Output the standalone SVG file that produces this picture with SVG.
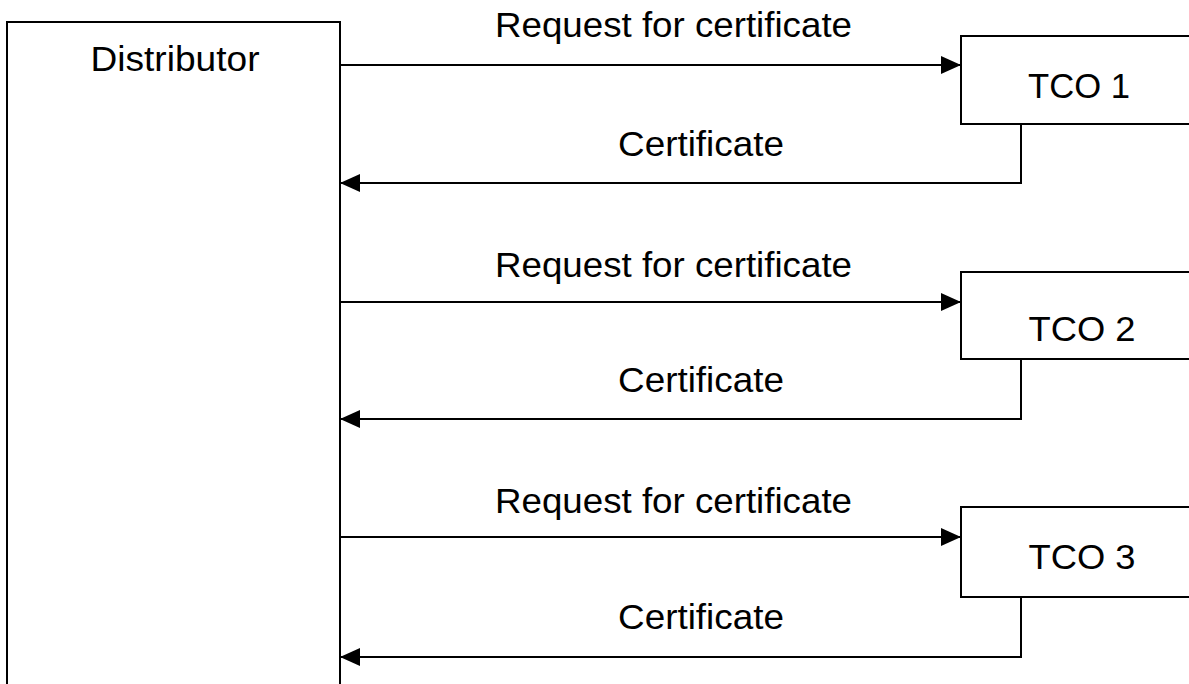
<svg xmlns="http://www.w3.org/2000/svg" width="1189" height="684" viewBox="0 0 1189 684">
<defs>
<marker id="ah" markerUnits="userSpaceOnUse" markerWidth="20" markerHeight="18" refX="20" refY="9" orient="auto">
<path d="M0,0 L20,9 L0,18 Z" fill="#000"/>
</marker>
<style>
.box{fill:#fff;stroke:#000;stroke-width:2}
.ln{fill:none;stroke:#000;stroke-width:2}
.t{font-family:"Liberation Sans",Arial,sans-serif;font-size:35px;fill:#000;text-anchor:middle}
</style>
</defs>
<rect width="1189" height="684" fill="#fff"/>
<g id="distributor">
<rect class="box" x="7" y="22" width="333" height="700"/>
<text class="t" x="175" y="71" textLength="169" lengthAdjust="spacingAndGlyphs">Distributor</text>
</g>
<g id="tco1">
<rect class="box" x="961" y="36" width="240" height="88"/>
<text class="t" x="1079" y="98" textLength="102" lengthAdjust="spacingAndGlyphs">TCO 1</text>
</g>
<g id="tco2">
<rect class="box" x="961" y="272" width="240" height="87"/>
<text class="t" x="1082" y="341" textLength="107" lengthAdjust="spacingAndGlyphs">TCO 2</text>
</g>
<g id="tco3">
<rect class="box" x="961" y="507" width="240" height="90"/>
<text class="t" x="1082" y="569" textLength="107" lengthAdjust="spacingAndGlyphs">TCO 3</text>
</g>
<g id="connectors">
<line class="ln" x1="340" y1="65" x2="961" y2="65" marker-end="url(#ah)"/>
<polyline class="ln" points="1021,124 1021,183 340,183" marker-end="url(#ah)"/>
<line class="ln" x1="340" y1="302" x2="961" y2="302" marker-end="url(#ah)"/>
<polyline class="ln" points="1021,359 1021,419 340,419" marker-end="url(#ah)"/>
<line class="ln" x1="340" y1="537" x2="961" y2="537" marker-end="url(#ah)"/>
<polyline class="ln" points="1021,597 1021,657 340,657" marker-end="url(#ah)"/>
<text class="t" x="673.5" y="37" textLength="357" lengthAdjust="spacingAndGlyphs">Request for certificate</text>
<text class="t" x="701" y="156" textLength="166" lengthAdjust="spacingAndGlyphs">Certificate</text>
<text class="t" x="673.5" y="277" textLength="357" lengthAdjust="spacingAndGlyphs">Request for certificate</text>
<text class="t" x="701" y="392" textLength="166" lengthAdjust="spacingAndGlyphs">Certificate</text>
<text class="t" x="673.5" y="513" textLength="357" lengthAdjust="spacingAndGlyphs">Request for certificate</text>
<text class="t" x="701" y="629" textLength="166" lengthAdjust="spacingAndGlyphs">Certificate</text>
</g>
</svg>
